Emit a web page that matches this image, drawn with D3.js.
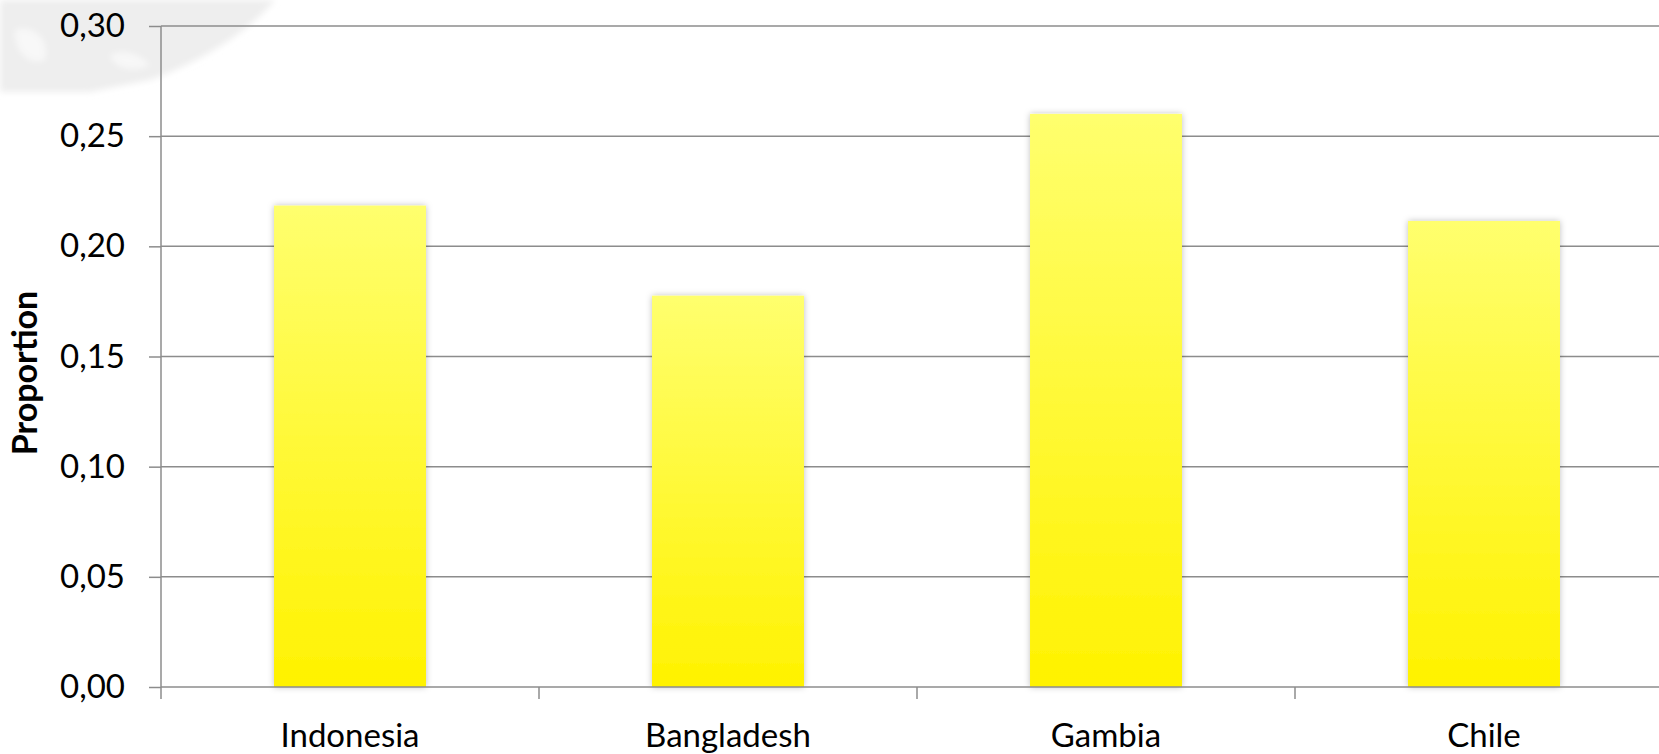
<!DOCTYPE html>
<html>
<head>
<meta charset="utf-8">
<script src="https://cdn.jsdelivr.net/npm/d3@7"></script>
<style>
  body { margin: 0; background: #fff; }
  svg { display: block; font-family: Lato, "Open Sans", sans-serif; }
</style>
</head>
<body>
<svg id="chart" width="1659" height="754"></svg>
<script>
const countries = ["Indonesia", "Bangladesh", "Gambia", "Chile"];
const proportions = [0.2185, 0.1776, 0.2601, 0.2115];
const yTicks = [0, 0.05, 0.10, 0.15, 0.20, 0.25, 0.30];

const svg = d3.select("#chart");
const margin = { left: 161, top: 26 };
const plotW = 1512, plotH = 661;

const defs = svg.append("defs");
defs.append("filter").attr("id", "blur").append("feGaussianBlur").attr("stdDeviation", 3);
const shadow = defs.append("filter").attr("id", "shadow")
    .attr("x", "-20%").attr("y", "-5%").attr("width", "140%").attr("height", "110%");
shadow.append("feDropShadow").attr("dx", 0).attr("dy", 0)
    .attr("stdDeviation", 3).attr("flood-color", "#000").attr("flood-opacity", 0.25);

const grad = defs.append("linearGradient").attr("id", "barFill")
    .attr("x1", 0).attr("y1", 0).attr("x2", 0).attr("y2", 1);
grad.append("stop").attr("offset", "0%").attr("stop-color", "#ffff6e");
grad.append("stop").attr("offset", "100%").attr("stop-color", "#fff200");

// faint watermark in the top-left corner
const wm = svg.append("g").attr("filter", "url(#blur)");
wm.append("path").attr("fill", "#eeeeee")
  .attr("d", "M0,0 L275,0 C250,30 205,60 150,80 L90,92 L0,92 Z");
wm.append("path").attr("fill", "#f8f8f8")
  .attr("d", "M15,30 C30,25 50,35 45,60 C30,65 15,55 15,30 Z");
wm.append("path").attr("fill", "#f8f8f8")
  .attr("d", "M110,55 C125,48 140,55 150,65 C135,72 115,70 110,55 Z");

const g = svg.append("g").attr("transform", `translate(${margin.left},${margin.top})`);

const x = d3.scaleBand().domain(countries).range([0, plotW]).paddingInner(0.598).paddingOuter(0.299);
const xBand = d3.scaleBand().domain(countries).range([0, plotW]);
const y = d3.scaleLinear().domain([0, 0.30]).range([plotH, 0]);

// gridlines
g.append("g")
  .selectAll("line")
  .data(yTicks.slice(1))
  .join("line")
  .attr("x1", 0).attr("x2", plotW)
  .attr("y1", d => y(d)).attr("y2", d => y(d))
  .attr("stroke", "#8c8c8c").attr("stroke-width", 1.5);

// bars
g.append("g")
  .selectAll("rect")
  .data(countries)
  .join("rect")
  .attr("x", d => x(d))
  .attr("width", x.bandwidth())
  .attr("y", (d, i) => y(proportions[i]))
  .attr("height", (d, i) => plotH - y(proportions[i]))
  .attr("fill", "url(#barFill)")
  .attr("filter", "url(#shadow)");

// y axis
const yAxis = g.append("g")
  .call(d3.axisLeft(y).tickValues(yTicks).tickSize(12).tickPadding(24)
    .tickFormat(d => d3.format(".2f")(d).replace(".", ",")))
  .attr("font-family", null)
  .attr("font-size", 33);
yAxis.select(".domain").attr("d", `M0,0V${plotH + 12}`);
yAxis.selectAll("line").attr("stroke", "#8c8c8c").attr("stroke-width", 1.5);
yAxis.selectAll(".domain").attr("stroke", "#8c8c8c").attr("stroke-width", 1.5);
yAxis.selectAll("text").attr("fill", "#000");

// x axis: baseline with ticks at category boundaries
const xAxis = g.append("g").attr("transform", `translate(0,${plotH})`);
xAxis.append("line").attr("x1", 0).attr("x2", plotW)
  .attr("stroke", "#8c8c8c").attr("stroke-width", 1.5);
xAxis.selectAll(".tick")
  .data(countries.slice(1))
  .join("line")
  .attr("class", "tick")
  .attr("x1", d => xBand(d)).attr("x2", d => xBand(d))
  .attr("y1", 0).attr("y2", 12)
  .attr("stroke", "#8c8c8c").attr("stroke-width", 1.5);
xAxis.selectAll(".label")
  .data(countries)
  .join("text")
  .attr("class", "label")
  .attr("x", d => xBand(d) + xBand.bandwidth() / 2)
  .attr("y", 60)
  .attr("text-anchor", "middle")
  .attr("font-size", 33)
  .attr("fill", "#000")
  .text(d => d);

// y axis title
svg.append("text")
  .attr("transform", "translate(37,373) rotate(-90)")
  .attr("text-anchor", "middle")
  .attr("font-size", 34)
  .attr("font-weight", "bold")
  .attr("fill", "#000")
  .text("Proportion");
</script>
</body>
</html>
